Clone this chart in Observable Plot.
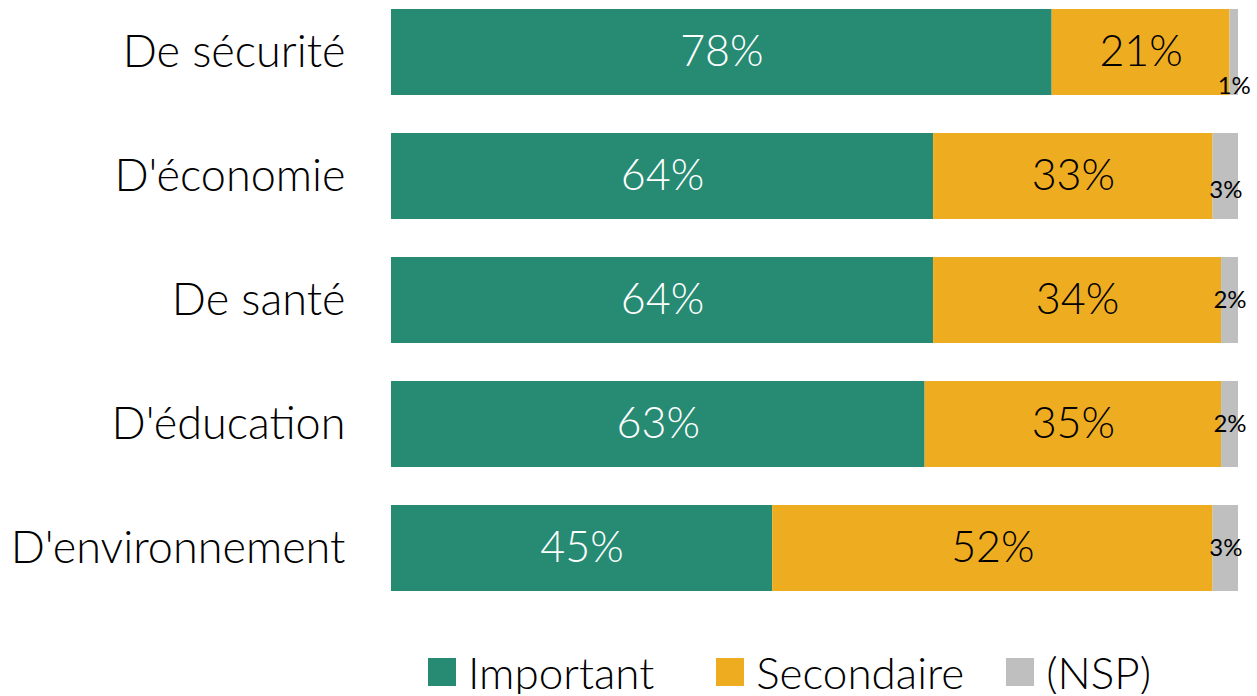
<!DOCTYPE html>
<html><head><meta charset="utf-8">
<script src="https://cdn.jsdelivr.net/npm/d3@7"></script>
<script src="https://cdn.jsdelivr.net/npm/@observablehq/plot@0.6"></script>
<style>
body{margin:0;background:#fff;font-family:Lato,"Open Sans",sans-serif;font-weight:300;}
#chart{height:600px;}
#legend{display:flex;align-items:center;margin-left:428px;margin-top:50px;font-size:44px;line-height:44px;height:44px;color:#000;}
#legend .it{display:flex;align-items:center;}
#legend .it:nth-child(1){margin-right:62px;}
#legend .it:nth-child(2){margin-right:42px;}
#legend .sw{width:28px;height:28px;margin-right:12px;}
</style></head>
<body><div id="chart"></div><div id="legend"></div>
<script>
const categories = ["De sécurité","D'économie","De santé","D'éducation","D'environnement"];
const series = ["Important","Secondaire","(NSP)"];
const important = [78,64,64,63,45];
const secondaire = [21,33,34,35,52];
const nsp = [1,3,2,2,3];
const colors = ["#268B72","#EEAC20","#BFBFBF"];

const data = [];
categories.forEach((c,i)=>{
  [important[i],secondaire[i],nsp[i]].forEach((v,j)=>data.push({cat:c,serie:series[j],value:v,idx:i}));
});
// vertical nudge of the small (NSP) labels, as placed in the reference
const nspShift = [34,14,0,0,0];

const stackOpts = (extra) => Plot.stackX({y:"cat", x:"value", z:"serie", order:series, ...extra});
const nspMarks = [...new Set(nspShift)].map(s =>
  Plot.text(data, stackOpts({
    text:d=> (d.serie==="(NSP)" && nspShift[d.idx]===s) ? d.value+"%" : null,
    fill:"#000", fontSize:24, fontWeight:400, dy:s}))
);

const plot = Plot.plot({
  width:1257, height:600,
  marginLeft:391, marginRight:19, marginTop:8, marginBottom:8,
  x:{domain:[0,100], axis:null},
  y:{domain:categories, padding:0.31, paddingOuter:0, label:null, axis:null},
  color:{domain:series, range:colors},
  style:{fontFamily:"Lato, 'Open Sans', sans-serif", fontWeight:300},
  marks:[
    Plot.barX(data, stackOpts({fill:"serie"})),
    Plot.axisY({tickSize:0, tickPadding:46, fontSize:45, fontWeight:300, label:null, textAnchor:"end", fill:"#000"}),
    Plot.text(data, stackOpts({
      text:d=> d.serie==="(NSP)" ? null : d.value+"%",
      fill:d=>d.serie==="Important"?"#fff":"#000", fontSize:43, fontWeight:300})),
    ...nspMarks
  ]
});
document.getElementById("chart").appendChild(plot);

const lg = document.getElementById("legend");
series.forEach((s,j)=>{
  const it=document.createElement("div");it.className="it";
  const sw=document.createElement("div");sw.className="sw";sw.style.background=colors[j];
  const t=document.createElement("span");t.textContent=s;
  it.appendChild(sw);it.appendChild(t);lg.appendChild(it);
});
</script></body></html>
